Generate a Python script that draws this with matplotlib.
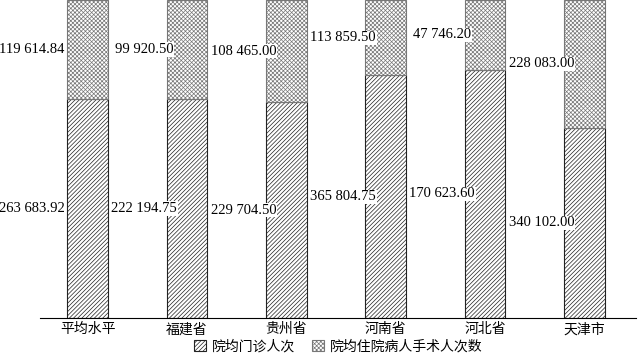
import matplotlib.pyplot as plt
import matplotlib as mpl

# 数据
regions = ["平均水平", "福建省", "贵州省", "河南省", "河北省", "天津市"]
outpatient = [263683.92, 222194.75, 229704.50, 365804.75, 170623.60, 340102.00]
surgery = [119614.84, 99920.50, 108465.00, 113859.50, 47746.20, 228083.00]
series_names = ["院均门诊人次", "院均住院病人手术人次数"]

plt.rcParams['font.family'] = ['Noto Sans CJK SC', 'DejaVu Sans']
mpl.rcParams['hatch.linewidth'] = 0.5

fig = plt.figure(figsize=(6.38, 3.62), dpi=100)
ax = fig.add_axes([40 / 638, 0.1215, 596 / 638, 0.8785])

x = list(range(len(regions)))
totals = [a + b for a, b in zip(outpatient, surgery)]
pct_out = [a / t * 100 for a, t in zip(outpatient, totals)]
pct_sur = [b / t * 100 for b, t in zip(surgery, totals)]

w = 0.41
b1 = ax.bar(x, pct_out, w, color='white', edgecolor='#222222', hatch='////////',
            linewidth=0.8, label=series_names[0])
b2 = ax.bar(x, pct_sur, w, bottom=pct_out, color='white', edgecolor='#777777',
            hatch='xxxxxxxx', linewidth=0.8, label=series_names[1])
for r in b2:
    r.set_edgecolor('#777777')

# 数值标签
def fmt(v):
    s = f"{v:,.2f}"
    return s.replace(",", " ")

for i in x:
    off = 0.56 if i == 0 else 0.43
    ax.text(i - off, pct_out[i] / 2, fmt(outpatient[i]), ha='center', va='center',
            fontsize=10.5, family='Liberation Serif', clip_on=False,
            bbox=dict(facecolor='white', edgecolor='none', pad=0.5))
    ax.text(i - off, pct_out[i] + pct_sur[i] / 2, fmt(surgery[i]), ha='center', va='center',
            fontsize=10.5, family='Liberation Serif', clip_on=False,
            bbox=dict(facecolor='white', edgecolor='none', pad=0.5))

ax.set_xlim(-0.48, 5.52)
ax.set_ylim(0, 100)
ax.set_xticks(x)
ax.set_xticklabels(regions, fontsize=10)
ax.set_yticks([])
ax.tick_params(axis='x', length=0, pad=3)
for s in ['top', 'left', 'right']:
    ax.spines[s].set_visible(False)
ax.spines['bottom'].set_linewidth(0.8)

fig.legend(handles=[b1, b2], loc='lower center', bbox_to_anchor=(0.53, -0.01), ncol=2,
           frameon=False, fontsize=10, handlelength=0.9, handleheight=0.9,
           handletextpad=0.4, columnspacing=1.2)

fig.savefig('out.png', dpi=100)
